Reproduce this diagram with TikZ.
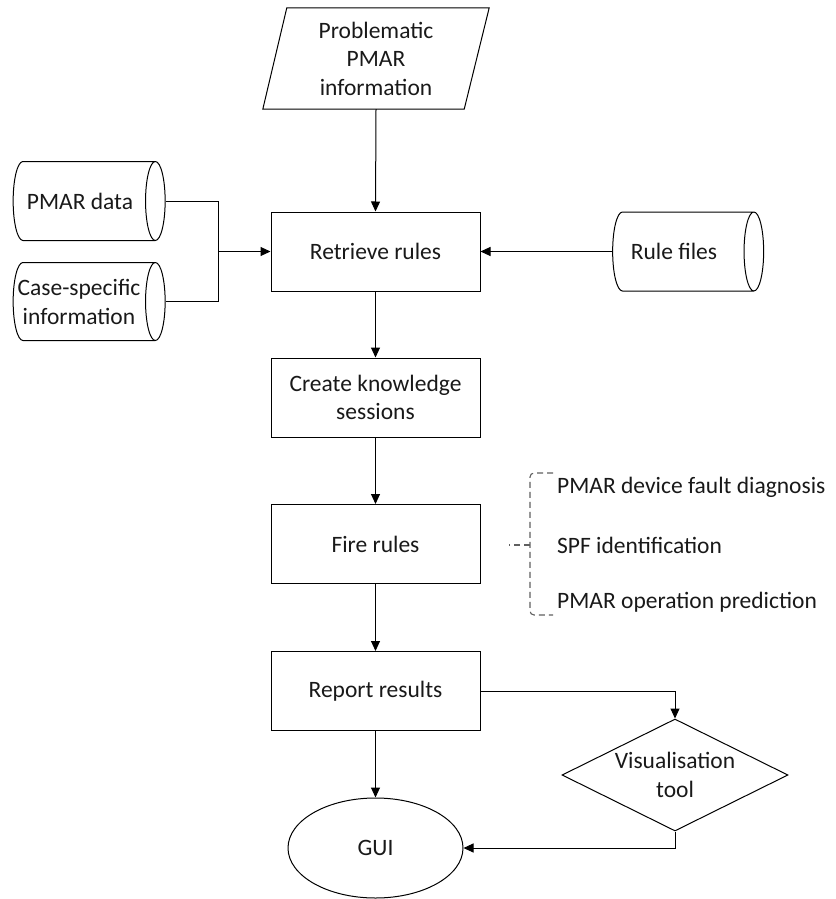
\documentclass[tikz,border=0pt]{standalone}
\usepackage{fontspec}
\setmainfont{Carlito}
\usetikzlibrary{shapes.geometric,arrows.meta}
\newcommand{\capstrut}{\rule{0pt}{28pt}}
\begin{document}
\begin{tikzpicture}[x=1pt,y=-1pt,
  every node/.style={font=\fontsize{23.5}{28.5}\selectfont, text=black!90, align=center, inner sep=0pt},
  procbox/.style={draw, line width=1pt, minimum width=209pt, minimum height=79pt},
  store/.style={draw, line width=1pt, cylinder, aspect=0.7},
  flow/.style={line width=1pt, -{Triangle[length=10pt,width=9pt]}},
  link/.style={line width=1pt},
  brace/.style={gray!75!black, line width=1.1pt, dash pattern=on 6pt off 4pt}]
\useasboundingbox (0,0) rectangle (835,899);

% input parallelogram
\node (prob) at (376,58.5) [minimum width=226pt, minimum height=101pt] {Problematic\\PMAR\\information};
\draw[line width=1pt] ([xshift=24pt]prob.north west) -- (prob.north east)
  -- ([xshift=-25pt]prob.south east) -- (prob.south west) -- cycle;

% main process chain
\node[procbox] (retrieve) at (375.5,251.5) {Retrieve rules};
\node[procbox] (create) at (375.5,397.5) {Create knowledge\\sessions};
\node[procbox] (fire) at (375.5,544) {Fire rules};
\node[procbox] (report) at (375.5,691) {Report results};
\node[draw, ellipse, line width=1pt, minimum width=175pt, minimum height=100pt] (gui) at (375.5,848) {GUI};
\node[draw, diamond, line width=1pt, minimum width=226pt, minimum height=112pt, aspect=2] (vis) at (675,775) {Visualisation\\tool};

% data stores (outline drawn first, text laid over it)
\node[store, minimum width=79pt, minimum height=152pt] (pdata) at (84,201) {\capstrut};
\node (pdatatext) at (80,201) {PMAR data};
\node[store, minimum width=78pt, minimum height=152pt] (case) at (84,301.5) {\capstrut};
\node (casetext) at (79,302) {Case-specific\\information};
\node[store, minimum width=79pt, minimum height=151pt] (rules) at (683,251.5) {\capstrut};
\node (rulestext) at (674,251.5) {Rule files};

% connectors
\coordinate (join) at (218,251.5);
\draw[flow] (prob.south) -- (retrieve.north);
\draw[link] (pdata.east) -| (join);
\draw[link] (case.east) -| (join);
\draw[flow] (join) -- (retrieve.west);
\draw[flow] (rules.west) -- (retrieve.east);
\draw[flow] (retrieve) -- (create);
\draw[flow] (create) -- (fire);
\draw[flow] (fire) -- (report);
\draw[flow] (report) -- (gui);
\draw[flow] (report.east) -| (vis.north);
\draw[flow] (vis.south) |- (gui.east);

% rule categories with dashed brace
\node[anchor=west] (c1) at (557,487) {PMAR device fault diagnosis};
\node[anchor=west] (c2) at (557,545) {SPF identification};
\node[anchor=west] (c3) at (557,602) {PMAR operation prediction};
\coordinate (btop) at (553,473);
\coordinate (bbot) at (553,615);
\coordinate (btip) at (509,545);
\draw[brace, rounded corners=4pt]
  (btop) -- (530,473) -- (530,615) -- (bbot);
\draw[brace] (530,545) -- (btip);
\end{tikzpicture}
\end{document}
